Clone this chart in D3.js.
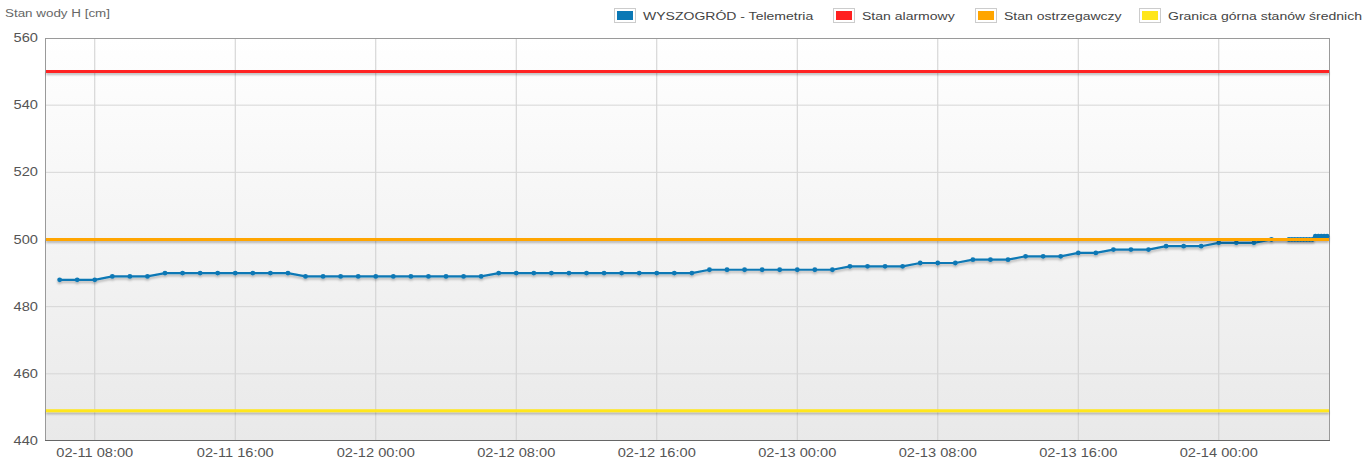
<!DOCTYPE html>
<html>
<head>
<meta charset="utf-8">
<script src="https://cdn.jsdelivr.net/npm/d3@7"></script>
<style>
  body { margin: 0; background: #fff; }
  svg { font-family: "Liberation Sans", Arial, sans-serif; }
</style>
</head>
<body>
<svg id="chart" width="1365" height="459"></svg>
<script>
// measurement times (hourly, then denser at the end)
const times = [
    "02-11 06:00", "02-11 07:00", "02-11 08:00", "02-11 09:00", "02-11 10:00", "02-11 11:00",
    "02-11 12:00", "02-11 13:00", "02-11 14:00", "02-11 15:00", "02-11 16:00", "02-11 17:00",
    "02-11 18:00", "02-11 19:00", "02-11 20:00", "02-11 21:00", "02-11 22:00", "02-11 23:00",
    "02-12 00:00", "02-12 01:00", "02-12 02:00", "02-12 03:00", "02-12 04:00", "02-12 05:00",
    "02-12 06:00", "02-12 07:00", "02-12 08:00", "02-12 09:00", "02-12 10:00", "02-12 11:00",
    "02-12 12:00", "02-12 13:00", "02-12 14:00", "02-12 15:00", "02-12 16:00", "02-12 17:00",
    "02-12 18:00", "02-12 19:00", "02-12 20:00", "02-12 21:00", "02-12 22:00", "02-12 23:00",
    "02-13 00:00", "02-13 01:00", "02-13 02:00", "02-13 03:00", "02-13 04:00", "02-13 05:00",
    "02-13 06:00", "02-13 07:00", "02-13 08:00", "02-13 09:00", "02-13 10:00", "02-13 11:00",
    "02-13 12:00", "02-13 13:00", "02-13 14:00", "02-13 15:00", "02-13 16:00", "02-13 17:00",
    "02-13 18:00", "02-13 19:00", "02-13 20:00", "02-13 21:00", "02-13 22:00", "02-13 23:00",
    "02-14 00:00", "02-14 01:00", "02-14 02:00", "02-14 03:00", "02-14 04:00",
    "02-14 04:10", "02-14 04:20", "02-14 04:30", "02-14 04:40", "02-14 04:50", "02-14 05:00",
    "02-14 05:10", "02-14 05:20", "02-14 05:30", "02-14 05:40", "02-14 05:50", "02-14 06:00",
    "02-14 06:10"
];
// water level H [cm]
const levels = [
    488, 488, 488, 489, 489, 489,
    490, 490, 490, 490, 490, 490,
    490, 490, 489, 489, 489, 489,
    489, 489, 489, 489, 489, 489,
    489, 490, 490, 490, 490, 490,
    490, 490, 490, 490, 490, 490,
    490, 491, 491, 491, 491, 491,
    491, 491, 491, 492, 492, 492,
    492, 493, 493, 493, 494, 494,
    494, 495, 495, 495, 496, 496,
    497, 497, 497, 498, 498, 498,
    499, 499, 499, 500, 500,
    500, 500, 500, 500, 500, 500,
    500, 500, 501, 501, 501, 501,
    501
];

const thresholds = [
    { name: "Stan alarmowy", value: 550, color: "#ff2020" },
    { name: "Stan ostrzegawczy", value: 500, color: "#ffa500" },
    { name: "Granica górna stanów średnich", value: 449, color: "#ffe61a" }
];
const seriesName = "WYSZOGRÓD - Telemetria";
const seriesColor = "#0b78b5";
const yTicks = [440, 460, 480, 500, 520, 540, 560];
const xDomain = ["02-11 05:10", "02-14 06:20"];

const parseTime = d3.timeParse("%m-%d %H:%M");
const data = times.map((t, i) => ({ t: parseTime(t), v: levels[i] }));

const margin = { left: 45, right: 35, top: 38, bottom: 18 };
const width = 1365, height = 459;
// text in the original looks stretched sideways
const stretch = 1.22;
const svg = d3.select("#chart");

const x = d3.scaleTime()
    .domain(xDomain.map(parseTime))
    .range([margin.left, width - margin.right]);
const y = d3.scaleLinear()
    .domain([440, 560])
    .range([height - margin.bottom, margin.top]);

let placeText = (sel, fx, fy) => sel
    .attr("transform", (d, i) => "translate(" + fx(d, i) + "," + fy(d, i) + ") scale(" + stretch + ",1)");

let defs = svg.append("defs");
let grad = defs.append("linearGradient").attr("id", "bg").attr("x1", 0).attr("x2", 0).attr("y1", 0).attr("y2", 1);
grad.append("stop").attr("offset", "0%").attr("stop-color", "#ffffff");
grad.append("stop").attr("offset", "100%").attr("stop-color", "#e9e9e9");
defs.append("filter").attr("id", "shadow").attr("x", "-5%").attr("y", "-50%").attr("width", "110%").attr("height", "200%")
    .append("feDropShadow").attr("dx", 0).attr("dy", 2).attr("stdDeviation", 1.2)
    .attr("flood-color", "#000").attr("flood-opacity", 0.25);

// plot background
svg.append("rect")
    .attr("x", margin.left).attr("y", margin.top)
    .attr("width", width - margin.right - margin.left)
    .attr("height", height - margin.bottom - margin.top)
    .attr("fill", "url(#bg)");

// grid
const xTicks = x.ticks(d3.timeHour.every(8));
svg.append("g").selectAll("line").data(xTicks).join("line")
    .attr("x1", d => x(d)).attr("x2", d => x(d))
    .attr("y1", margin.top).attr("y2", height - margin.bottom)
    .attr("stroke", "#cfcfcf").attr("stroke-width", 1);
svg.append("g").selectAll("line").data(yTicks.slice(1, -1)).join("line")
    .attr("x1", margin.left).attr("x2", width - margin.right)
    .attr("y1", d => y(d)).attr("y2", d => y(d))
    .attr("stroke", "#d6d6d6").attr("stroke-width", 1);

// border
svg.append("rect")
    .attr("x", margin.left + 0.5).attr("y", margin.top + 0.5)
    .attr("width", width - margin.right - margin.left - 1)
    .attr("height", height - margin.bottom - margin.top - 1)
    .attr("fill", "none").attr("stroke", "#9a9a9a");
svg.append("line")
    .attr("x1", margin.left).attr("x2", width - margin.right)
    .attr("y1", height - margin.bottom - 0.5).attr("y2", height - margin.bottom - 0.5)
    .attr("stroke", "#666");

// series
let line = d3.line().x(d => x(d.t)).y(d => y(d.v));
let series = svg.append("g").attr("filter", "url(#shadow)");
series.append("path").datum(data)
    .attr("d", line).attr("fill", "none")
    .attr("stroke", seriesColor).attr("stroke-width", 2.2);
series.selectAll("circle").data(data).join("circle")
    .attr("cx", d => x(d.t)).attr("cy", d => y(d.v)).attr("r", 2.4)
    .attr("fill", seriesColor);

// threshold lines
svg.append("g").attr("filter", "url(#shadow)").selectAll("line").data(thresholds).join("line")
    .attr("x1", margin.left + 1).attr("x2", width - margin.right - 1)
    .attr("y1", d => y(d.value)).attr("y2", d => y(d.value))
    .attr("stroke", d => d.color).attr("stroke-width", 3);

// axes labels
svg.append("g").selectAll("text").data(yTicks).join("text")
    .call(placeText, () => 38, d => y(d) + 4)
    .attr("text-anchor", "end").attr("font-size", 12).attr("fill", "#555")
    .text(d => d);
let fmt = d3.timeFormat("%m-%d %H:%M");
svg.append("g").selectAll("text").data(xTicks).join("text")
    .call(placeText, d => x(d), () => 457)
    .attr("text-anchor", "middle").attr("font-size", 12).attr("fill", "#555")
    .text(d => fmt(d));

svg.append("text").datum(0)
    .call(placeText, () => 5, () => 17)
    .attr("font-size", 11).attr("fill", "#666").text("Stan wody H [cm]");

// legend
let legendItems = [{ name: seriesName, color: seriesColor }].concat(thresholds);
let legendX = [614, 833, 975, 1139];
let legend = svg.append("g").selectAll("g").data(legendItems).join("g")
    .attr("transform", (d, i) => "translate(" + legendX[i] + ",8)");
legend.append("rect").attr("x", 0.5).attr("y", 0.5).attr("width", 21).attr("height", 14)
    .attr("fill", "#fff").attr("stroke", "#ccc");
legend.append("rect").attr("x", 3).attr("y", 3).attr("width", 16).attr("height", 9)
    .attr("fill", d => d.color);
legend.append("text")
    .call(placeText, () => 29, () => 12)
    .attr("font-size", 11.5).attr("fill", "#444").text(d => d.name);
</script>
</body>
</html>
